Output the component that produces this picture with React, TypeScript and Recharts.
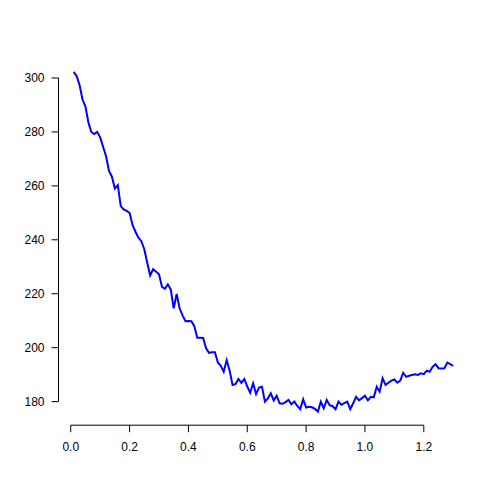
import React from "react";
import { LineChart, Line, XAxis, YAxis, ReferenceLine } from "recharts";

const xValues: number[] = Array.from({ length: 130 }, (_, i) => Math.round((i + 1)) / 100);

const yValues: number[] = [
  302.3, 300.8, 297.4, 292.0, 289.4, 283.5, 280.0, 279.2, 280.0, 278.0,
  274.5, 271.0, 265.5, 263.4, 259.0, 260.3, 252.5, 251.3, 250.7, 250.0,
  245.5, 243.0, 240.8, 239.5, 236.5, 231.5, 226.8, 229.1, 228.2, 227.2,
  222.6, 221.8, 223.5, 221.6, 214.6, 219.9, 214.6, 212.0, 209.8, 209.9,
  209.8, 208.0, 203.7, 203.7, 203.6, 199.8, 198.1, 198.3, 198.3, 194.5,
  193.3, 191.1, 195.4, 191.5, 186.2, 186.5, 188.4, 187.0, 188.4, 185.6,
  183.3, 186.8, 182.8, 185.2, 185.5, 180.0, 181.2, 183.1, 180.4, 182.2,
  179.4, 179.2, 179.8, 180.6, 179.0, 180.0, 178.4, 177.2, 180.9, 177.8,
  178.1, 177.9, 177.3, 176.3, 180.0, 177.5, 180.6, 178.7, 178.3, 177.2,
  180.0, 178.8, 179.4, 180.0, 177.2, 179.4, 181.8, 180.5, 181.3, 182.2,
  180.5, 181.8, 181.6, 185.5, 183.7, 188.7, 186.2, 187.0, 187.8, 188.2,
  187.0, 187.8, 190.7, 189.2, 189.6, 189.9, 190.1, 189.9, 190.5, 190.2,
  191.5, 191.1, 192.9, 193.9, 192.4, 192.3, 192.4, 194.5, 193.9, 193.2,
];

const xTicks: number[] = [0, 0.2, 0.4, 0.6, 0.8, 1.0, 1.2];
const yTicks: number[] = [180, 200, 220, 240, 260, 280, 300];

const xDomain: [number, number] = [-0.0416, 1.3516];
const yDomain: [number, number] = [171.26, 307.34];

const data = xValues.map((x, i) => ({ x, y: yValues[i] }));

const font = "'Liberation Sans', Arial, Helvetica, sans-serif";

export default function App() {
  return (
    <div style={{ position: "absolute", left: 0, top: 0, width: 498, height: 498, background: "#fff" }}>
      <LineChart
        width={498}
        height={498}
        data={data}
        margin={{ top: 58.2, right: 29.6, bottom: 32.8, left: 0 }}
      >
        <XAxis
          dataKey="x"
          type="number"
          domain={xDomain}
          ticks={xTicks}
          allowDataOverflow
          axisLine={false}
          tickLine={{ stroke: "#000", strokeWidth: 1 }}
          tickSize={7}
          tickMargin={10}
          height={40}
          tickFormatter={(v: number) => v.toFixed(1)}
          tick={{ fill: "#000", fontSize: 12, fontFamily: font }}
        />
        <YAxis
          dataKey="y"
          type="number"
          domain={yDomain}
          ticks={yTicks}
          allowDataOverflow
          axisLine={false}
          tickLine={{ stroke: "#000", strokeWidth: 1 }}
          tickSize={7}
          tickMargin={7}
          width={58.5}
          tick={{ fill: "#000", fontSize: 12, fontFamily: font }}
        />
        <ReferenceLine
          segment={[{ x: xTicks[0], y: yDomain[0] }, { x: xTicks[xTicks.length - 1], y: yDomain[0] }]}
          stroke="#000"
          strokeWidth={1}
          ifOverflow="visible"
        />
        <ReferenceLine
          segment={[{ x: xDomain[0], y: yTicks[0] }, { x: xDomain[0], y: yTicks[yTicks.length - 1] }]}
          stroke="#000"
          strokeWidth={1}
          ifOverflow="visible"
        />
        <Line
          type="linear"
          dataKey="y"
          stroke="#0000FF"
          strokeWidth={2}
          dot={false}
          isAnimationActive={false}
        />
      </LineChart>
    </div>
  );
}
